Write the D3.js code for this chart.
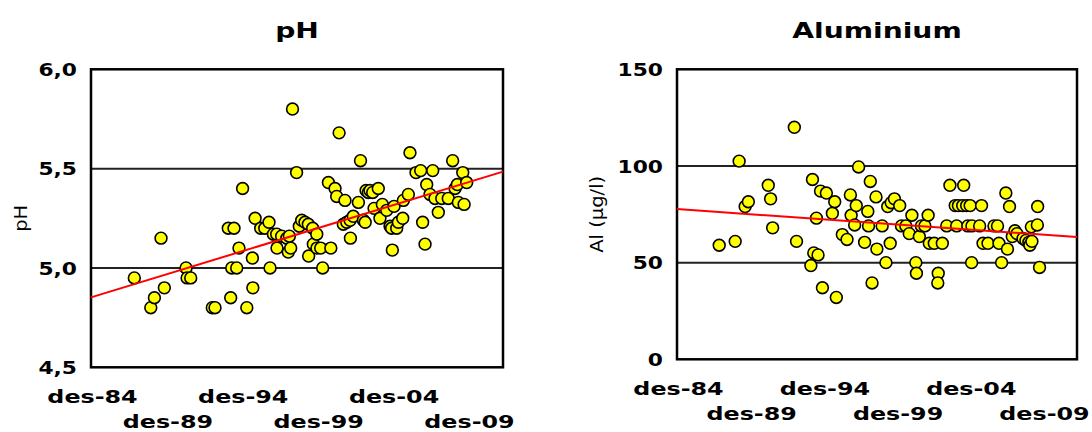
<!DOCTYPE html>
<html>
<head>
<meta charset="utf-8">
<script src="https://d3js.org/d3.v7.min.js"></script>
<style>
body { margin: 0; background: #fff; }
svg text { font-family: "DejaVu Sans", Verdana, sans-serif; fill: #000; }
</style>
</head>
<body>
<svg id="chart" width="1092" height="432"></svg>
<script>
// shared x axis: tick labels (Norwegian months) and end of the date range (decimal year)
var xTickLabels = ["des-84", "des-89", "des-94", "des-99", "des-04", "des-09"];
var xEndYear = 2012.24;

// pH: sample dates (decimal years) and values
var phYears = [1987.79,1988.88,1989.12,1989.56,1989.78,1991.22,1991.29,1991.53,1992.96,1993.14,
  1994.02,1994.18,1994.25,1994.40,1994.58,1994.73,1994.97,1995.25,1995.62,1995.65,
  1995.80,1996.17,1996.44,1996.72,1996.79,1997.01,1997.23,1997.25,1997.56,1997.90,
  1998.00,1998.07,1998.16,1998.28,1998.55,1998.73,1998.89,1999.11,1999.33,1999.35,
  1999.62,1999.66,1999.89,1999.90,2000.15,2000.28,2000.66,2000.82,2001.10,2001.21,
  2001.37,2001.65,2001.76,2001.88,2002.10,2002.12,2002.31,2002.65,2002.79,2002.98,
  2003.10,2003.16,2003.31,2003.42,2003.60,2003.69,2003.97,2004.08,2004.24,2004.53,
  2004.75,2004.85,2004.90,2005.01,2005.19,2005.30,2005.59,2005.63,2005.96,2006.07,
  2006.47,2006.78,2006.91,2007.07,2007.18,2007.40,2007.58,2007.73,2007.95,2008.18,
  2008.61,2008.90,2009.06,2009.21,2009.28,2009.57,2009.66,2009.83];
var phValues = [4.95,4.80,4.85,5.15,4.90,5.00,4.95,4.95,4.80,4.80,
  5.20,4.85,5.00,5.20,5.00,5.10,5.40,4.80,5.05,4.90,
  5.25,5.20,5.20,5.23,5.00,5.17,5.17,5.10,5.16,5.15,
  5.08,5.16,5.10,5.80,5.48,5.21,5.24,5.23,5.22,5.06,
  5.20,5.12,5.17,5.10,5.10,5.00,5.43,5.10,5.40,5.36,
  5.68,5.22,5.34,5.23,5.24,5.15,5.26,5.33,5.54,5.24,
  5.23,5.39,5.38,5.39,5.38,5.30,5.40,5.25,5.32,5.29,
  5.21,5.20,5.09,5.31,5.20,5.23,5.25,5.34,5.37,5.58,
  5.48,5.49,5.23,5.12,5.42,5.37,5.49,5.35,5.28,5.35,
  5.35,5.54,5.40,5.42,5.33,5.48,5.32,5.43];
var phTicks = [4.5, 5.0, 5.5, 6.0];
var phTrend = [4.852, 5.485];   // trend value at start / end of the axis

// Aluminium (µg/l)
var alYears = [1987.80,1988.89,1989.16,1989.57,1989.79,1991.15,1991.31,1991.45,1992.93,1993.08,
  1994.06,1994.17,1994.26,1994.44,1994.55,1994.72,1994.85,1995.12,1995.53,1995.69,
  1995.80,1996.21,1996.53,1996.76,1996.81,1997.05,1997.16,1997.32,1997.73,1997.95,
  1998.00,1998.12,1998.24,1998.51,1998.57,1998.93,1999.19,1999.31,1999.48,1999.55,
  1999.77,2000.13,2000.25,2000.55,2000.78,2000.96,2001.23,2001.27,2001.47,2001.61,
  2001.85,2002.07,2002.15,2002.49,2002.76,2002.73,2003.04,2003.34,2003.56,2003.92,
  2004.02,2004.14,2004.43,2004.50,2004.70,2004.78,2004.94,2005.06,2005.04,2005.59,
  2005.72,2005.82,2006.16,2006.57,2006.81,2006.91,2007.09,2007.38,2007.49,2007.63,
  2007.82,2008.00,2008.14,2008.55,2008.75,2008.95,2009.02,2009.12,2009.16,2009.53,
  2009.55,2009.68];
var alValues = [59,61,102.5,79,81.5,90,83,68,120,61,
  48.5,93,55,73,54,87,37,86,75.5,81.5,
  32,64.5,62,85,74.5,69.5,79.5,99.5,60.5,76.5,
  69,92,39.5,84,57,69,50,79,60,81,
  83,79.5,69,69,65,74.5,50,44.5,63.5,69,
  69,74.5,60,60,44.5,39.5,60,69,90,79.5,
  69,79.5,79.5,90,79.5,69,79.5,69,50,69,
  79.5,60,60,69,69,60,50,86,57,79,
  63.5,66.5,65,62.5,61.5,60.5,59,68.5,61,69.5,
  79,47.5];
var alTicks = [0, 50, 100, 150];
var alTrend = [77.7, 63.2];

// Norwegian locale for dates and decimal comma
var noTime = d3.timeFormatLocale({
  dateTime: "%A %e. %B %Y kl. %X", date: "%d.%m.%Y", time: "%H:%M:%S", periods: ["AM", "PM"],
  days: ["søndag","mandag","tirsdag","onsdag","torsdag","fredag","lørdag"],
  shortDays: ["søn","man","tir","ons","tor","fre","lør"],
  months: ["januar","februar","mars","april","mai","juni","juli","august","september","oktober","november","desember"],
  shortMonths: ["jan","feb","mar","apr","mai","jun","jul","aug","sep","okt","nov","des"]
});
var noNum = d3.formatLocale({decimal: ",", thousands: " ", grouping: [3], currency: ["", " kr"]});

var parseTick = noTime.parse("%b-%y"),
    fmtTick = noTime.format("%b-%y");
var tickDates = xTickLabels.map(parseTick);

function yearToDate(y) {
  var yr = Math.floor(y), a = new Date(yr, 0, 1), b = new Date(yr + 1, 0, 1);
  return new Date(+a + (y - yr) * (b - a));
}

var svg = d3.select("#chart");

var boldStretch = 1.28, xLabelStretch = 1.4, plainStretch = 1.15;

function drawPanel(p) {
  var x = d3.scaleTime().domain([tickDates[0], yearToDate(xEndYear)]).range([p.left, p.right]);
  var y = d3.scaleLinear().domain([p.ticks[0], p.ticks[p.ticks.length - 1]]).range([p.bottom, p.top]);
  var g = svg.append("g");

  // gridlines
  g.selectAll(".grid").data(p.ticks.slice(1, -1)).enter().append("line")
    .attr("x1", p.left).attr("x2", p.right)
    .attr("y1", function (d) { return y(d); }).attr("y2", function (d) { return y(d); })
    .attr("stroke", "#222").attr("stroke-width", 2);

  // frame
  g.append("rect").attr("x", p.left).attr("y", p.top)
    .attr("width", p.right - p.left).attr("height", p.bottom - p.top)
    .attr("fill", "none").attr("stroke", "#000").attr("stroke-width", 2.5);

  var pts = p.years.map(function (yr, i) { return {date: yearToDate(yr), v: p.values[i]}; });

  g.selectAll(".pt").data(pts).enter().append("circle")
    .attr("cx", function (d) { return x(d.date); })
    .attr("cy", function (d) { return y(d.v); })
    .attr("r", 5.9)
    .attr("fill", "#ffff00").attr("stroke", "#000").attr("stroke-width", 1.6);

  // trend line
  var line = d3.line().x(function (d) { return x(d[0]); }).y(function (d) { return y(d[1]); });
  g.append("path")
    .datum([[x.domain()[0], p.trend[0]], [x.domain()[1], p.trend[1]]])
    .attr("d", line).attr("fill", "none").attr("stroke", "#ff0000").attr("stroke-width", 2);

  // y axis labels
  var ya = g.append("g").attr("transform", "translate(" + p.left + ",0)")
    .call(d3.axisLeft(y).tickValues(p.ticks).tickFormat(p.fmt).tickSize(0));
  ya.select(".domain").remove();
  ya.selectAll("text")
    .attr("x", null).attr("dy", "0.36em")
    .attr("transform", "translate(-14,0) scale(" + boldStretch + ",1)")
    .style("font-size", "17px").style("font-weight", "bold")
    .style("font-family", '"DejaVu Sans", Verdana, sans-serif');

  // x axis labels, staggered on two rows
  var xa = g.append("g").attr("transform", "translate(0," + p.bottom + ")")
    .call(d3.axisBottom(x).tickValues(tickDates).tickFormat(fmtTick).tickSize(0));
  xa.select(".domain").remove();
  xa.selectAll("text")
    .attr("y", null).attr("dy", null)
    .attr("transform", function (d, i) {
      return "translate(1," + (i % 2 ? 60.5 : 36) + ") scale(" + xLabelStretch + ",1)";
    })
    .style("font-size", "17px").style("font-weight", "bold")
    .style("font-family", '"DejaVu Sans", Verdana, sans-serif');

  // title
  g.append("text")
    .attr("transform", "translate(" + ((p.left + p.right) / 2) + ",38) scale(" + boldStretch + ",1)")
    .attr("text-anchor", "middle")
    .style("font-size", "22px").style("font-weight", "bold")
    .text(p.title);

  // y axis title
  g.append("text")
    .attr("transform", "translate(" + p.yTitleX + "," + ((p.top + p.bottom) / 2) + ") rotate(-90) scale(" + plainStretch + ",1)")
    .attr("text-anchor", "middle")
    .style("font-size", "17px")
    .text(p.yTitle);
}

drawPanel({
  left: 91, right: 503, top: 69.3, bottom: 367.3,
  years: phYears, values: phValues, ticks: phTicks, trend: phTrend,
  fmt: noNum.format(".1f"), title: "pH", yTitle: "pH", yTitleX: 27
});

drawPanel({
  left: 677, right: 1077, top: 69.3, bottom: 359.3,
  years: alYears, values: alValues, ticks: alTicks, trend: alTrend,
  fmt: noNum.format("d"), title: "Aluminium", yTitle: "Al (µg/l)", yTitleX: 603
});
</script>
</body>
</html>
